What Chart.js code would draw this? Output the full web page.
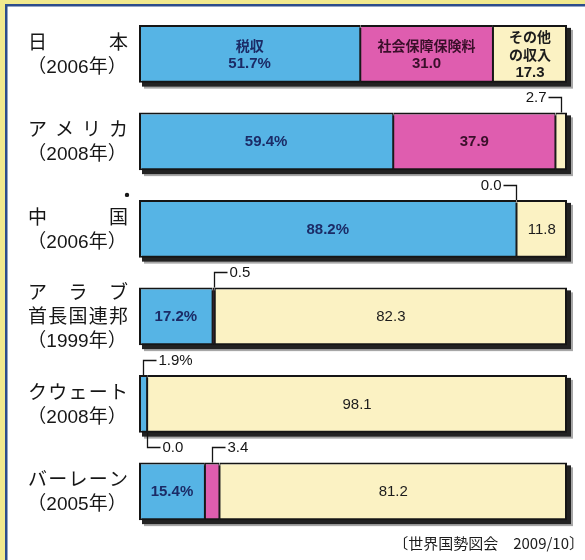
<!DOCTYPE html>
<html lang="ja">
<head>
<meta charset="utf-8">
<title>歳入構成</title>
<script src="https://cdn.jsdelivr.net/npm/chart.js@4/dist/chart.umd.min.js"></script>
<style>
  html, body { margin: 0; padding: 0; background: #ffffff; }
  #wrap { position: relative; width: 585px; height: 560px; }
</style>
</head>
<body>
<div id="wrap"><canvas id="c" width="585" height="560"></canvas></div>
<script>
// Country names (one entry per printed line) and survey years
const countries = [['日本'], ['アメリカ'], ['中国'], ['アラブ', '首長国連邦'], ['クウェート'], ['バーレーン']];
const years = ['2006', '2008', '2006', '1999', '2008', '2005'];

// Revenue shares (%)
const taxRevenue      = [51.7, 59.4, 88.2, 17.2,  1.9, 15.4];
const socialInsurance = [31.0, 37.9,  0.0,  0.5,  0.0,  3.4];
const otherRevenue    = [17.3,  2.7, 11.8, 82.3, 98.1, 81.2];

// Series names, written inside the first bar
const seriesNames = [['税収'], ['社会保障保険料'], ['その他', 'の収入']];

// Rows marked with a dot beside the name
const markedRows = [2];

const sourceNote = '〔世界国勢図会　2009/10〕';

const LATIN = '"Liberation Sans", Arial, "Noto Sans CJK JP", sans-serif';
const CJK = '"Noto Sans CJK JP", "Liberation Sans", sans-serif';

const seriesStyle = [
  { bg: '#56b4e5', text: '#1b2b66', weight: 'bold',   pct: true,  border: { left: 2, right: 1, top: 2, bottom: 2 } },
  { bg: '#df5daf', text: '#3a0f2a', weight: 'bold',   pct: false, border: { left: 1, right: 1, top: 2, bottom: 2 } },
  { bg: '#fbf2c3', text: '#1c1c1c', weight: 'normal', pct: false, border: { left: 1, right: 2, top: 2, bottom: 2 } }
];
const seriesData = [taxRevenue, socialInsurance, otherRevenue];

const rowLabels = countries.map(c => c.join(''));

// Page frame: yellow margin with a blue rule along the top and left
const framePlugin = {
  id: 'frame',
  beforeDraw(chart) {
    const ctx = chart.ctx;
    ctx.save();
    ctx.fillStyle = '#ffffff';
    ctx.fillRect(0, 0, chart.width, chart.height);
    ctx.fillStyle = '#f1e98e';
    ctx.fillRect(0, 0, chart.width, 5);
    ctx.fillRect(0, 0, 5, chart.height);
    ctx.fillStyle = '#2c4c8c';
    ctx.fillRect(5, 4, chart.width - 5, 2.5);
    ctx.fillRect(5, 4, 2.5, chart.height - 4);
    ctx.restore();
  }
};

// Dark drop shadow to the lower right of each whole bar
const shadowPlugin = {
  id: 'barShadow',
  beforeDatasetsDraw(chart) {
    const ctx = chart.ctx;
    const xs = chart.scales.x;
    const x0 = xs.getPixelForValue(0);
    const x1 = xs.getPixelForValue(100);
    ctx.save();
    chart.getDatasetMeta(0).data.forEach(bar => {
      const p = bar.getProps(['y', 'height'], true);
      const top = p.y - p.height / 2;
      // grey fringe
      ctx.fillStyle = 'rgba(60,60,60,0.45)';
      ctx.fillRect(x0 + 5, top + 5, x1 - x0 + 1, p.height + 1);
      // dark core
      ctx.fillStyle = '#222222';
      ctx.fillRect(x0 + 3, top + 3, x1 - x0 + 1, p.height + 1);
    });
    ctx.restore();
  }
};

// Values inside the segments, or on a leader line for narrow ones
const valuePlugin = {
  id: 'values',
  afterDatasetsDraw(chart) {
    const ctx = chart.ctx;
    const xs = chart.scales.x;
    ctx.save();
    ctx.textBaseline = 'middle';
    for (let i = 0; i < rowLabels.length; i++) {
      let calloutsUp = 0;
      for (let s = 0; s < seriesData.length; s++) {
        const v = seriesData[s][i];
        const st = seriesStyle[s];
        const bar = chart.getDatasetMeta(s).data[i].getProps(['x', 'y', 'base', 'height'], true);
        const left = Math.min(bar.x, bar.base);
        const right = Math.max(bar.x, bar.base);
        const top = bar.y - bar.height / 2;
        const bottom = bar.y + bar.height / 2;
        const text = v.toFixed(1) + (st.pct ? '%' : '');
        if (v >= 5) {
          const header = i === 0 ? seriesNames[s] : [];
          const lines = header.concat([text]);
          const lh = 18;
          let y = bar.y + 1 - (lines.length - 1) * lh / 2;
          ctx.fillStyle = st.text;
          ctx.textAlign = 'center';
          lines.forEach((ln, k) => {
            const isHeader = k < header.length;
            ctx.font = isHeader ? 'bold 14px ' + CJK
              : (i === 0 ? 'bold' : st.weight) + ' 15px ' + LATIN;
            ctx.fillText(ln, (left + right) / 2, y);
            y += lh;
          });
        } else {
          const up = calloutsUp === 0;
          if (up) calloutsUp++;
          const cx = Math.round((left + right) / 2) + 0.5;
          const yEdge = up ? top : bottom;
          const ly = Math.round(up ? yEdge - 15 : yEdge + 14) + 0.5;
          const toLeft = cx > xs.left + xs.width * 0.7;
          const dir = toLeft ? -1 : 1;
          ctx.strokeStyle = '#141414';
          ctx.lineWidth = 1.3;
          ctx.beginPath();
          ctx.moveTo(cx, yEdge);
          ctx.lineTo(cx, ly);
          ctx.lineTo(cx + dir * 13, ly);
          ctx.stroke();
          ctx.fillStyle = '#141414';
          ctx.font = 'normal 15px ' + LATIN;
          ctx.textAlign = toLeft ? 'right' : 'left';
          ctx.fillText(text, cx + dir * 15, ly);
        }
      }
    }
    ctx.restore();
  }
};

// Country names, spread across a fixed box, with the year beneath
const namePlugin = {
  id: 'names',
  afterDraw(chart) {
    const ctx = chart.ctx;
    const area = chart.chartArea;
    const boxR = area.left - 11;
    const boxL = boxR - 100;
    const meta = chart.getDatasetMeta(0);
    ctx.save();
    ctx.fillStyle = '#161616';
    ctx.textBaseline = 'middle';
    ctx.font = 'normal 19px ' + LATIN;
    const lh = 24;
    for (let i = 0; i < rowLabels.length; i++) {
      const bar = meta.data[i].getProps(['y', 'height'], true);
      const lines = countries[i].concat(['（' + years[i] + '年）']);
      let y = bar.y + 2 - (lines.length - 1) * lh / 2;
      lines.forEach((ln, k) => {
        if (k < countries[i].length) {
          const chars = Array.from(ln);
          const widths = chars.map(ch => ctx.measureText(ch).width);
          const total = widths.reduce((a, b) => a + b, 0);
          const gap = chars.length > 1 ? (boxR - boxL - total) / (chars.length - 1) : 0;
          let x = chars.length > 1 ? boxL : (boxL + boxR - total) / 2;
          ctx.textAlign = 'left';
          chars.forEach((ch, j) => { ctx.fillText(ch, x, y); x += widths[j] + gap; });
        } else {
          ctx.textAlign = 'center';
          ctx.fillText(ln, (boxL + boxR) / 2 - 1, y);
        }
        y += lh;
      });
      if (markedRows.includes(i)) {
        ctx.beginPath();
        ctx.arc(boxR - 1, bar.y - bar.height / 2 - 5, 2.2, 0, Math.PI * 2);
        ctx.fill();
      }
    }
    // source line
    ctx.font = 'normal 15px ' + CJK;
    ctx.textAlign = 'right';
    ctx.fillStyle = '#1c1c1c';
    ctx.fillText(sourceNote, chart.width - 1, chart.height - 17);
    ctx.restore();
  }
};

new Chart(document.getElementById('c'), {
  type: 'bar',
  data: {
    labels: rowLabels,
    datasets: seriesData.map((d, s) => ({
      label: seriesNames[s].join(''),
      data: d,
      backgroundColor: seriesStyle[s].bg,
      borderColor: '#151515',
      borderWidth: seriesStyle[s].border,
      borderSkipped: false,
      barPercentage: 0.66,
      categoryPercentage: 1
    }))
  },
  options: {
    indexAxis: 'y',
    responsive: false,
    animation: false,
    devicePixelRatio: 1,
    layout: { padding: { left: 139, right: 18, top: 10, bottom: 25 } },
    plugins: { legend: { display: false }, tooltip: { enabled: false } },
    scales: {
      x: { stacked: true, min: 0, max: 100, display: false },
      y: { stacked: true, display: false }
    }
  },
  plugins: [framePlugin, shadowPlugin, valuePlugin, namePlugin]
});
</script>
</body>
</html>
